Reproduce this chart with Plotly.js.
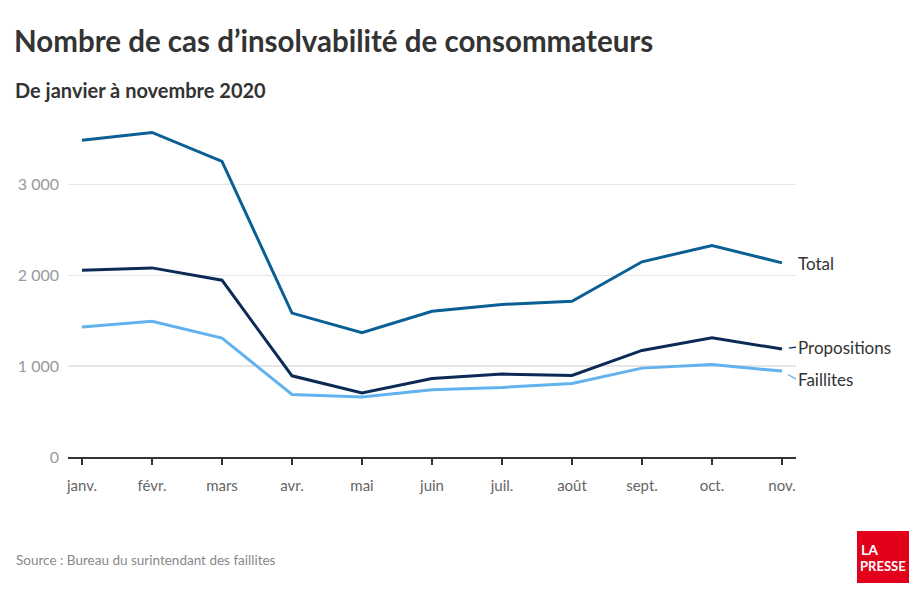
<!DOCTYPE html>
<html>
<head>
<meta charset="utf-8">
<script src="https://cdn.plot.ly/plotly-3.0.1.min.js"></script>
<style>html,body{margin:0;padding:0;background:#fff;}#chart{width:924px;height:607px;}</style>
</head>
<body>
<div id="chart"></div>
<script>
const months = ["janv.", "févr.", "mars", "avr.", "mai", "juin", "juil.", "août", "sept.", "oct.", "nov."];
const total = [3490, 3575, 3255, 1585, 1368, 1605, 1680, 1715, 2150, 2330, 2138];
const propositions = [2057, 2083, 1947, 894, 706, 865, 913, 898, 1174, 1313, 1189];
const faillites = [1432, 1494, 1310, 689, 662, 740, 766, 810, 979, 1020, 946];
const yTickVals = [0, 1000, 2000, 3000];
const yTickText = ["0", "1 000", "2 000", "3 000"];

const W = 924, H = 607;
const M = {l: 68, r: 128, t: 112, b: 150};
const PW = W - M.l - M.r, PH = H - M.t - M.b;
const px = v => (v - M.l) / PW;
const py = v => (H - M.b - v) / PH;
const FONT = "Lato, 'Open Sans', sans-serif";

const colTotal = "#0a5f95", colProp = "#0b2a55", colFail = "#62b2ee";

const traces = [
  {x: months, y: faillites, name: "Faillites", mode: "lines", line: {color: colFail, width: 3}},
  {x: months, y: propositions, name: "Propositions", mode: "lines", line: {color: colProp, width: 3}},
  {x: months, y: total, name: "Total", mode: "lines", line: {color: colTotal, width: 3}}
];

const last = months.length - 1;
const annotations = [
  {xref: "paper", yref: "paper", x: px(13), y: py(90), xanchor: "left", yanchor: "middle", showarrow: false,
   text: "<b>De janvier à novembre 2020</b>", font: {family: FONT, size: 20, color: "#333"}},
  {xref: "paper", yref: "paper", x: px(14), y: py(560), xanchor: "left", yanchor: "middle", showarrow: false,
   text: "Source : Bureau du surintendant des faillites", font: {family: FONT, size: 13.5, color: "#888"}},
  {x: last, y: total[last], xanchor: "left", yanchor: "middle", showarrow: false, xshift: 14, yshift: -1,
   text: "Total", font: {family: FONT, size: 17, color: "#333"}},
  {x: last, y: propositions[last], xanchor: "left", yanchor: "middle", showarrow: true, arrowhead: 0, arrowwidth: 1.2, arrowcolor: colProp,
   ax: 14, ay: -2, standoff: 7, text: "Propositions", font: {family: FONT, size: 17, color: "#333"}},
  {x: last, y: faillites[last], xanchor: "left", yanchor: "middle", showarrow: true, arrowhead: 0, arrowwidth: 1.2, arrowcolor: colFail,
   ax: 14, ay: 8, standoff: 7, text: "Faillites", font: {family: FONT, size: 17, color: "#333"}},
  {xref: "paper", yref: "paper", x: px(859), y: py(549), xanchor: "left", yanchor: "middle", showarrow: false,
   text: "<b>LA</b>", font: {family: FONT, size: 14, color: "#fff"}},
  {xref: "paper", yref: "paper", x: px(858), y: py(566), xanchor: "left", yanchor: "middle", showarrow: false,
   text: "<b>PRESSE</b>", font: {family: FONT, size: 13, color: "#fff"}}
];

const shapes = [
  {type: "rect", xref: "paper", yref: "paper", x0: px(857), x1: px(909), y0: py(583), y1: py(531),
   fillcolor: "#e2001a", line: {width: 0}, layer: "below"}
];

const layout = {
  width: W, height: H,
  margin: M,
  paper_bgcolor: "#fff", plot_bgcolor: "#fff",
  showlegend: false,
  font: {family: FONT, color: "#333"},
  title: {text: "<b>Nombre de cas d’insolvabilité de consommateurs</b>", xref: "container", yref: "container",
          x: 14 / W, y: 1 - 42 / H, xanchor: "left", yanchor: "middle", font: {family: FONT, size: 29.5, color: "#333"}},
  xaxis: {type: "category", range: [-0.2, 10.2], showgrid: false, zeroline: false,
          showline: true, linecolor: "#333", linewidth: 1.5,
          ticks: "outside", ticklen: 6, tickwidth: 1.5, tickcolor: "#333",
          tickfont: {family: FONT, size: 15, color: "#666"}, ticklabelstandoff: 8, fixedrange: true},
  yaxis: {range: [0, 3800], tickvals: yTickVals, ticktext: yTickText, showgrid: true, gridcolor: "#e6e6e6", gridwidth: 1.5,
          zeroline: false, showline: false, ticks: "", tickfont: {family: FONT, size: 16, color: "#999"},
          ticklabelstandoff: 8, fixedrange: true},
  annotations: annotations,
  shapes: shapes
};

Plotly.newPlot("chart", traces, layout, {staticPlot: true, displayModeBar: false});
</script>
</body>
</html>
